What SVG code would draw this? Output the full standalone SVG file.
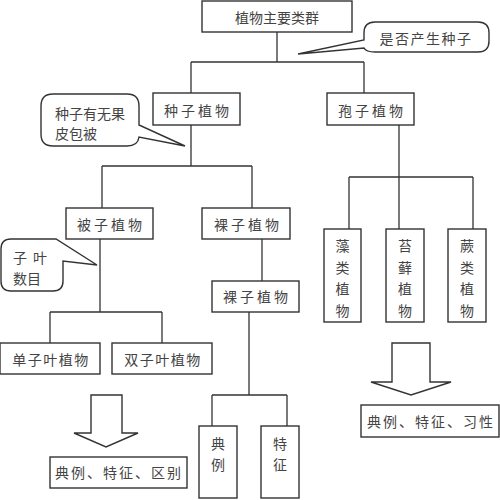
<svg xmlns="http://www.w3.org/2000/svg" width="500" height="500" viewBox="0 0 500 500">
<style>
.box{fill:#fff;stroke:#333;stroke-width:1.4}
.ln{fill:none;stroke:#333;stroke-width:1.3}
text{font-family:"Noto Sans CJK SC","Noto Sans",sans-serif;font-size:14px;fill:#444;dominant-baseline:central}
.c{text-anchor:middle}
.sp{letter-spacing:3px}
</style>
<rect width="500" height="500" fill="#fff"/>
<g id="connectors">
<path class="ln" d="M277 32 V62 M191 62 H364 M191 62 V93 M364 62 V93"/>
<path class="ln" d="M191 125 V166 M102 166 H252 M102 166 V208 M252 166 V208"/>
<path class="ln" d="M399 125 V177 M349 177 H473 M349 177 V229 M399 177 V229 M473 177 V229"/>
<path class="ln" d="M100 239 V312 M50 312 H162 M50 312 V343 M162 312 V343"/>
<path class="ln" d="M262 239 V281"/>
<path class="ln" d="M249 312 V395 M212 395 H287 M212 395 V426 M287 395 V426"/>
<path class="box" d="M91 395 H122 V433 H138 L106 447 L74 433 H91 Z"/>
<path class="box" d="M392 343 H430 V382 H451 L411 395 L371 382 H392 Z"/>
</g>
<g id="root"><rect class="box" x="202" y="1" width="150" height="31"/><text class="c" x="277" y="17">植物主要类群</text></g>
<g id="callout-seed"><path class="box" d="M375 22 H478 Q489 22 489 33 V41 Q489 52 478 52 H375 Q366 52 364 48 L298 54 L364 40 V33 Q364 22 375 22 Z"/><text class="c" x="426" y="38" style="letter-spacing:1.5px">是否产生种子</text></g>
<g id="seed-plants"><rect class="box" x="153" y="93" width="87" height="32"/><text class="c sp" x="198" y="110">种子植物</text></g>
<g id="spore-plants"><rect class="box" x="327" y="93" width="87" height="32"/><text class="c sp" x="372" y="110">孢子植物</text></g>
<g id="callout-pericarp"><path class="box" d="M53 94 H127 Q139 94 139 106 V125 L185 146 L139 137 Q138 146 127 146 H53 Q41 146 41 134 V106 Q41 94 53 94 Z"/><text x="55" y="113">种子有无果</text><text x="55" y="133">皮包被</text></g>
<g id="angiosperms"><rect class="box" x="66" y="208" width="87" height="31"/><text class="c sp" x="111" y="224">被子植物</text></g>
<g id="gymnosperms"><rect class="box" x="202" y="208" width="88" height="31"/><text class="c sp" x="248" y="224">裸子植物</text></g>
<g id="gymnosperms2"><rect class="box" x="212" y="281" width="87" height="31"/><text class="c sp" x="257" y="296">裸子植物</text></g>
<g id="callout-cotyledon"><path class="box" d="M11 239 H56 L97 265 L63 261 V281 Q63 291 53 291 H11 Q1 291 1 281 V249 Q1 239 11 239 Z"/><text x="13" y="257" style="letter-spacing:6px">子叶</text><text x="13" y="278">数目</text></g>
<g id="monocots"><rect class="box" x="0" y="343" width="100" height="31"/><text class="c" x="51" y="359" style="letter-spacing:1.5px">单子叶植物</text></g>
<g id="dicots"><rect class="box" x="112" y="343" width="100" height="31"/><text class="c" x="163" y="359" style="letter-spacing:1.5px">双子叶植物</text></g>
<g id="summary-angio"><rect class="box" x="50" y="457" width="137" height="31"/><text class="c" x="119" y="472" style="letter-spacing:2px">典例、特征、区别</text></g>
<g id="example"><rect class="box" x="199" y="426" width="38" height="72"/><text class="c" x="218" y="443">典</text><text class="c" x="218" y="464">例</text></g>
<g id="feature"><rect class="box" x="261" y="426" width="38" height="72"/><text class="c" x="280" y="443">特</text><text class="c" x="280" y="464">征</text></g>
<g id="algae"><rect class="box" x="324" y="229" width="37" height="93"/><text class="c" x="342.5" y="245">藻</text><text class="c" x="342.5" y="267">类</text><text class="c" x="342.5" y="288">植</text><text class="c" x="342.5" y="310">物</text></g>
<g id="bryophytes"><rect class="box" x="386" y="229" width="38" height="93"/><text class="c" x="405" y="245">苔</text><text class="c" x="405" y="267">藓</text><text class="c" x="405" y="288">植</text><text class="c" x="405" y="310">物</text></g>
<g id="ferns"><rect class="box" x="448" y="229" width="38" height="93"/><text class="c" x="467" y="245">蕨</text><text class="c" x="467" y="267">类</text><text class="c" x="467" y="288">植</text><text class="c" x="467" y="310">物</text></g>
<g id="summary-spore"><rect class="box" x="361" y="405" width="138" height="32"/><text class="c" x="431" y="421" style="letter-spacing:2px">典例、特征、习性</text></g>
</svg>
